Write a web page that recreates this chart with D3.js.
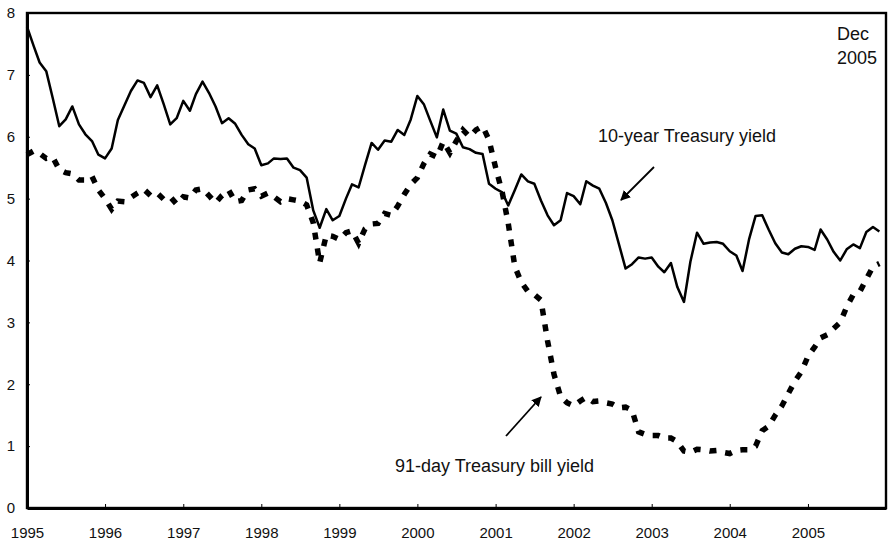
<!DOCTYPE html>
<html>
<head>
<meta charset="utf-8">
<script src="https://cdn.jsdelivr.net/npm/d3@7"></script>
<style>
  body { margin: 0; background: #fff; }
  text { font-family: Arial, "Liberation Sans", sans-serif; fill: #111; }
</style>
</head>
<body>
<svg id="chart" width="892" height="542"></svg>
<script>
// monthly yields, Jan 1995 .. Dec 2005
var tenYear = [
  7.78, 7.47, 7.20, 7.06, 6.63, 6.17, 6.28, 6.49, 6.20, 6.04, 5.93, 5.71,
  5.65, 5.81, 6.27, 6.51, 6.74, 6.91, 6.87, 6.64, 6.83, 6.53, 6.20, 6.30,
  6.58, 6.42, 6.69, 6.89, 6.71, 6.49, 6.22, 6.30, 6.21, 6.03, 5.88, 5.81,
  5.54, 5.57, 5.65, 5.64, 5.65, 5.50, 5.46, 5.34, 4.81, 4.53, 4.83, 4.65,
  4.72, 5.00, 5.23, 5.18, 5.54, 5.90, 5.79, 5.94, 5.92, 6.11, 6.03, 6.28,
  6.66, 6.52, 6.26, 5.99, 6.44, 6.10, 6.05, 5.83, 5.80, 5.74, 5.72, 5.24,
  5.16, 5.10, 4.89, 5.14, 5.39, 5.28, 5.24, 4.97, 4.73, 4.57, 4.65, 5.09,
  5.04, 4.91, 5.28, 5.21, 5.16, 4.93, 4.65, 4.26, 3.87, 3.94, 4.05, 4.03,
  4.05, 3.90, 3.81, 3.96, 3.57, 3.33, 3.98, 4.45, 4.27, 4.29, 4.30, 4.27,
  4.15, 4.08, 3.83, 4.35, 4.72, 4.73, 4.50, 4.28, 4.13, 4.10, 4.19, 4.23,
  4.22, 4.17, 4.50, 4.34, 4.14, 4.00, 4.18, 4.26, 4.20, 4.46, 4.54, 4.47
];

var tBill = [
  5.71, 5.77, 5.73, 5.65, 5.67, 5.47, 5.42, 5.40, 5.30, 5.30, 5.36, 5.14,
  5.00, 4.83, 4.96, 4.95, 5.02, 5.09, 5.15, 5.05, 5.09, 4.99, 5.03, 4.91,
  5.03, 5.01, 5.14, 5.16, 5.05, 4.93, 5.05, 5.14, 4.95, 4.97, 5.14, 5.16,
  5.04, 5.09, 5.03, 4.95, 5.00, 4.98, 4.96, 4.90, 4.61, 3.96, 4.41, 4.39,
  4.34, 4.45, 4.48, 4.28, 4.51, 4.59, 4.60, 4.76, 4.73, 4.88, 5.07, 5.23,
  5.34, 5.57, 5.72, 5.67, 5.92, 5.74, 5.93, 6.11, 6.00, 6.11, 6.17, 5.95,
  5.50, 5.10, 4.60, 3.90, 3.65, 3.50, 3.45, 3.36, 2.70, 2.16, 1.80, 1.70,
  1.65, 1.73, 1.79, 1.72, 1.73, 1.70, 1.68, 1.62, 1.63, 1.58, 1.23, 1.19,
  1.17, 1.17, 1.13, 1.13, 1.07, 0.92, 0.90, 0.95, 0.94, 0.92, 0.93, 0.90,
  0.88, 0.93, 0.94, 0.94, 1.00, 1.25, 1.32, 1.50, 1.65, 1.85, 2.05, 2.20,
  2.45, 2.60, 2.75, 2.80, 2.90, 3.00, 3.25, 3.45, 3.50, 3.70, 3.90, 3.95
];

var years = [1995, 1996, 1997, 1998, 1999, 2000, 2001, 2002, 2003, 2004, 2005, 2006];
var yTicks = [0, 1, 2, 3, 4, 5, 6, 7, 8];
var months = d3.timeMonths(new Date(1995, 0, 1), new Date(2006, 0, 1));

var svg = d3.select("#chart"),
    plot = {left: 27, right: 886, top: 13, bottom: 508};

var x = d3.scaleTime()
    .domain([new Date(1995, 0, 1), new Date(2006, 0, 1)])
    .range([plot.left, plot.right]);
var y = d3.scaleLinear().domain([0, 8]).range([plot.bottom, plot.top]);

// frame
svg.append("rect")
    .attr("x", plot.left).attr("y", plot.top)
    .attr("width", plot.right - plot.left).attr("height", plot.bottom - plot.top)
    .attr("fill", "none").attr("stroke", "#000").attr("stroke-width", 2.4);

var xAxis = svg.append("g")
    .attr("transform", "translate(0," + plot.bottom + ")")
    .call(d3.axisBottom(x)
      .tickValues(years.map(function(d) { return new Date(d, 0, 1); }))
      .tickSizeInner(-4).tickSizeOuter(0).tickPadding(19)
      .tickFormat(function(d) { return d.getFullYear() < 2006 ? d.getFullYear() : ""; }));
xAxis.select(".domain").attr("stroke", "#000").attr("stroke-width", 3);
xAxis.selectAll("text").style("font-size", "15px").attr("fill", "#111");

var yAxis = svg.append("g")
    .attr("transform", "translate(" + plot.left + ",0)")
    .call(d3.axisLeft(y).tickValues(yTicks)
      .tickSizeInner(-3).tickSizeOuter(0).tickPadding(12));
yAxis.select(".domain").attr("stroke", "#000").attr("stroke-width", 3);
yAxis.selectAll("text").style("font-size", "15px").attr("fill", "#111");

var line = d3.line()
    .x(function(d, i) { return x(months[i]); })
    .y(function(d) { return y(d); });

svg.append("path")
    .datum(tBill)
    .attr("fill", "none")
    .attr("stroke", "#000")
    .attr("stroke-width", 5.5)
    .attr("stroke-dasharray", "7,9")
    .attr("d", line);

svg.append("path")
    .datum(tenYear)
    .attr("fill", "none")
    .attr("stroke", "#000")
    .attr("stroke-width", 2.5)
    .attr("stroke-linejoin", "round")
    .attr("d", line);

// annotations
svg.append("defs").append("marker")
    .attr("id", "head")
    .attr("viewBox", "0 0 10 10")
    .attr("refX", 9).attr("refY", 5)
    .attr("markerWidth", 10).attr("markerHeight", 10)
    .attr("markerUnits", "userSpaceOnUse")
    .attr("orient", "auto")
  .append("path")
    .attr("d", "M0,0L10,5L0,10z")
    .attr("fill", "#000");

svg.append("line")
    .attr("x1", 654).attr("y1", 167).attr("x2", 621).attr("y2", 200)
    .attr("stroke", "#000").attr("stroke-width", 1.8)
    .attr("marker-end", "url(#head)");

svg.append("line")
    .attr("x1", 506).attr("y1", 436).attr("x2", 541).attr("y2", 397)
    .attr("stroke", "#000").attr("stroke-width", 1.8)
    .attr("marker-end", "url(#head)");

svg.append("text")
    .attr("x", 598).attr("y", 142)
    .style("font-size", "18px")
    .text("10-year Treasury yield");

svg.append("text")
    .attr("x", 395).attr("y", 472)
    .style("font-size", "18px")
    .text("91-day Treasury bill yield");

svg.append("text")
    .attr("x", 837).attr("y", 40)
    .style("font-size", "18px")
    .text("Dec");
svg.append("text")
    .attr("x", 837).attr("y", 64)
    .style("font-size", "18px")
    .text("2005");
</script>
</body>
</html>
